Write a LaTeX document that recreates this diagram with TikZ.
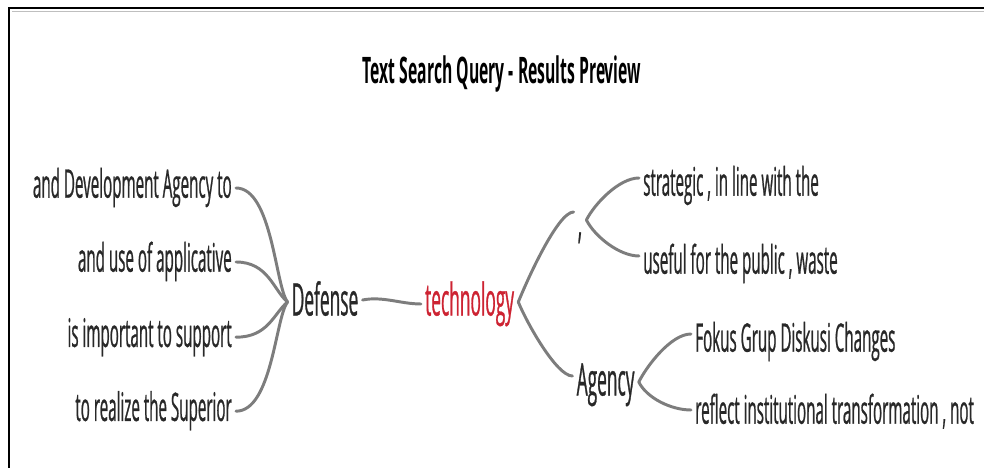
\documentclass[tikz,border=0pt]{standalone}
\usepackage{fontspec}
\setmainfont{Open Sans}[FakeStretch=0.385,FakeBold=0.6]
\newfontfamily\titlefont{Open Sans}[FakeStretch=0.43]
\definecolor{inkgray}{RGB}{40,40,40}
\definecolor{techred}{RGB}{205,35,50}
\definecolor{linkgray}{RGB}{125,125,125}
\begin{document}
\begin{tikzpicture}[every node/.style={inner sep=0.1cm,text=inkgray},
  leaf/.style={font=\fontsize{28}{32}\selectfont,text height=0.75em,text depth=0.22em},
  hub/.style={font=\fontsize{32}{36}\selectfont,text height=0.7em,text depth=0.2em},
  branch/.style={draw=linkgray,line width=2.1pt,line cap=round}]
\useasboundingbox (0,0) rectangle (24.6,11.7);
\draw[gray!50,line width=0.6pt] (0.3,11.42)--(24.6,11.42);
\draw[line width=2pt] (0.225,0)--(0.225,11.5)--(24.6,11.5);
\node[font=\titlefont\bfseries\fontsize{26}{30}\selectfont,text=black] (title) at (12.55,9.85) {Text Search Query - Results Preview};
\node[leaf,anchor=east] (l1) at (5.9,6.85) {and Development Agency to};
\node[leaf,anchor=east] (l2) at (5.9,5.0) {and use of applicative};
\node[leaf,anchor=east] (l3) at (5.9,3.12) {is important to support};
\node[leaf,anchor=east] (l4) at (5.9,1.27) {to realize the Superior};
\node[hub] (def) at (8.125,3.9) {Defense};
\node[hub,text=techred] (tech) at (11.74,3.9) {technology};
\node[hub] (comma) at (14.5,5.85) {,};
\node[hub] (agency) at (15.14,1.9) {Agency};
\node[leaf,anchor=west] (s1) at (15.975,6.9) {strategic , in line with the};
\node[leaf,anchor=west] (s2) at (15.975,4.95) {useful for the public , waste};
\node[leaf,anchor=west] (f1) at (17.275,3.0) {Fokus Grup Diskusi Changes};
\node[leaf,anchor=west] (f2) at (17.275,1.2) {reflect institutional transformation , not};
\draw[branch] ([yshift=0.15cm]l1.east) .. controls +(0.9,0) and +(-0.3,0.4) .. ([yshift=0.25cm]def.west);
\draw[branch] ([yshift=0.15cm]l2.east) .. controls +(0.8,0) and +(-0.35,0.3) .. ([yshift=0.25cm]def.west);
\draw[branch] ([yshift=0.15cm]l3.east) .. controls +(0.8,0) and +(-0.35,-0.3) .. ([yshift=0.25cm]def.west);
\draw[branch] ([yshift=0.15cm]l4.east) .. controls +(0.9,0) and +(-0.3,-0.4) .. ([yshift=0.25cm]def.west);
\draw[branch] ([yshift=0.3cm]def.east) .. controls +(0.5,0.1) and +(-0.5,0) .. ([yshift=0.2cm]tech.west);
\draw[branch] ([yshift=0.25cm]tech.east) .. controls +(0.2,0.5) and +(-0.4,0) .. ([yshift=0.55cm]comma.west);
\draw[branch] ([yshift=0.25cm]tech.east) .. controls +(0.2,-0.5) and +(-0.4,0) .. ([yshift=0.4cm]agency.west);
\draw[branch] ([yshift=0.35cm]comma.east) .. controls +(0.2,0.4) and +(-0.5,0) .. ([yshift=0.35cm]s1.west);
\draw[branch] ([yshift=0.35cm]comma.east) .. controls +(0.2,-0.4) and +(-0.5,0) .. ([yshift=0.35cm]s2.west);
\draw[branch] ([yshift=0.25cm]agency.east) .. controls +(0.2,0.4) and +(-0.5,0) .. ([yshift=0.35cm]f1.west);
\draw[branch] ([yshift=0.25cm]agency.east) .. controls +(0.2,-0.4) and +(-0.5,0) .. ([yshift=0.25cm]f2.west);
\end{tikzpicture}
\end{document}
